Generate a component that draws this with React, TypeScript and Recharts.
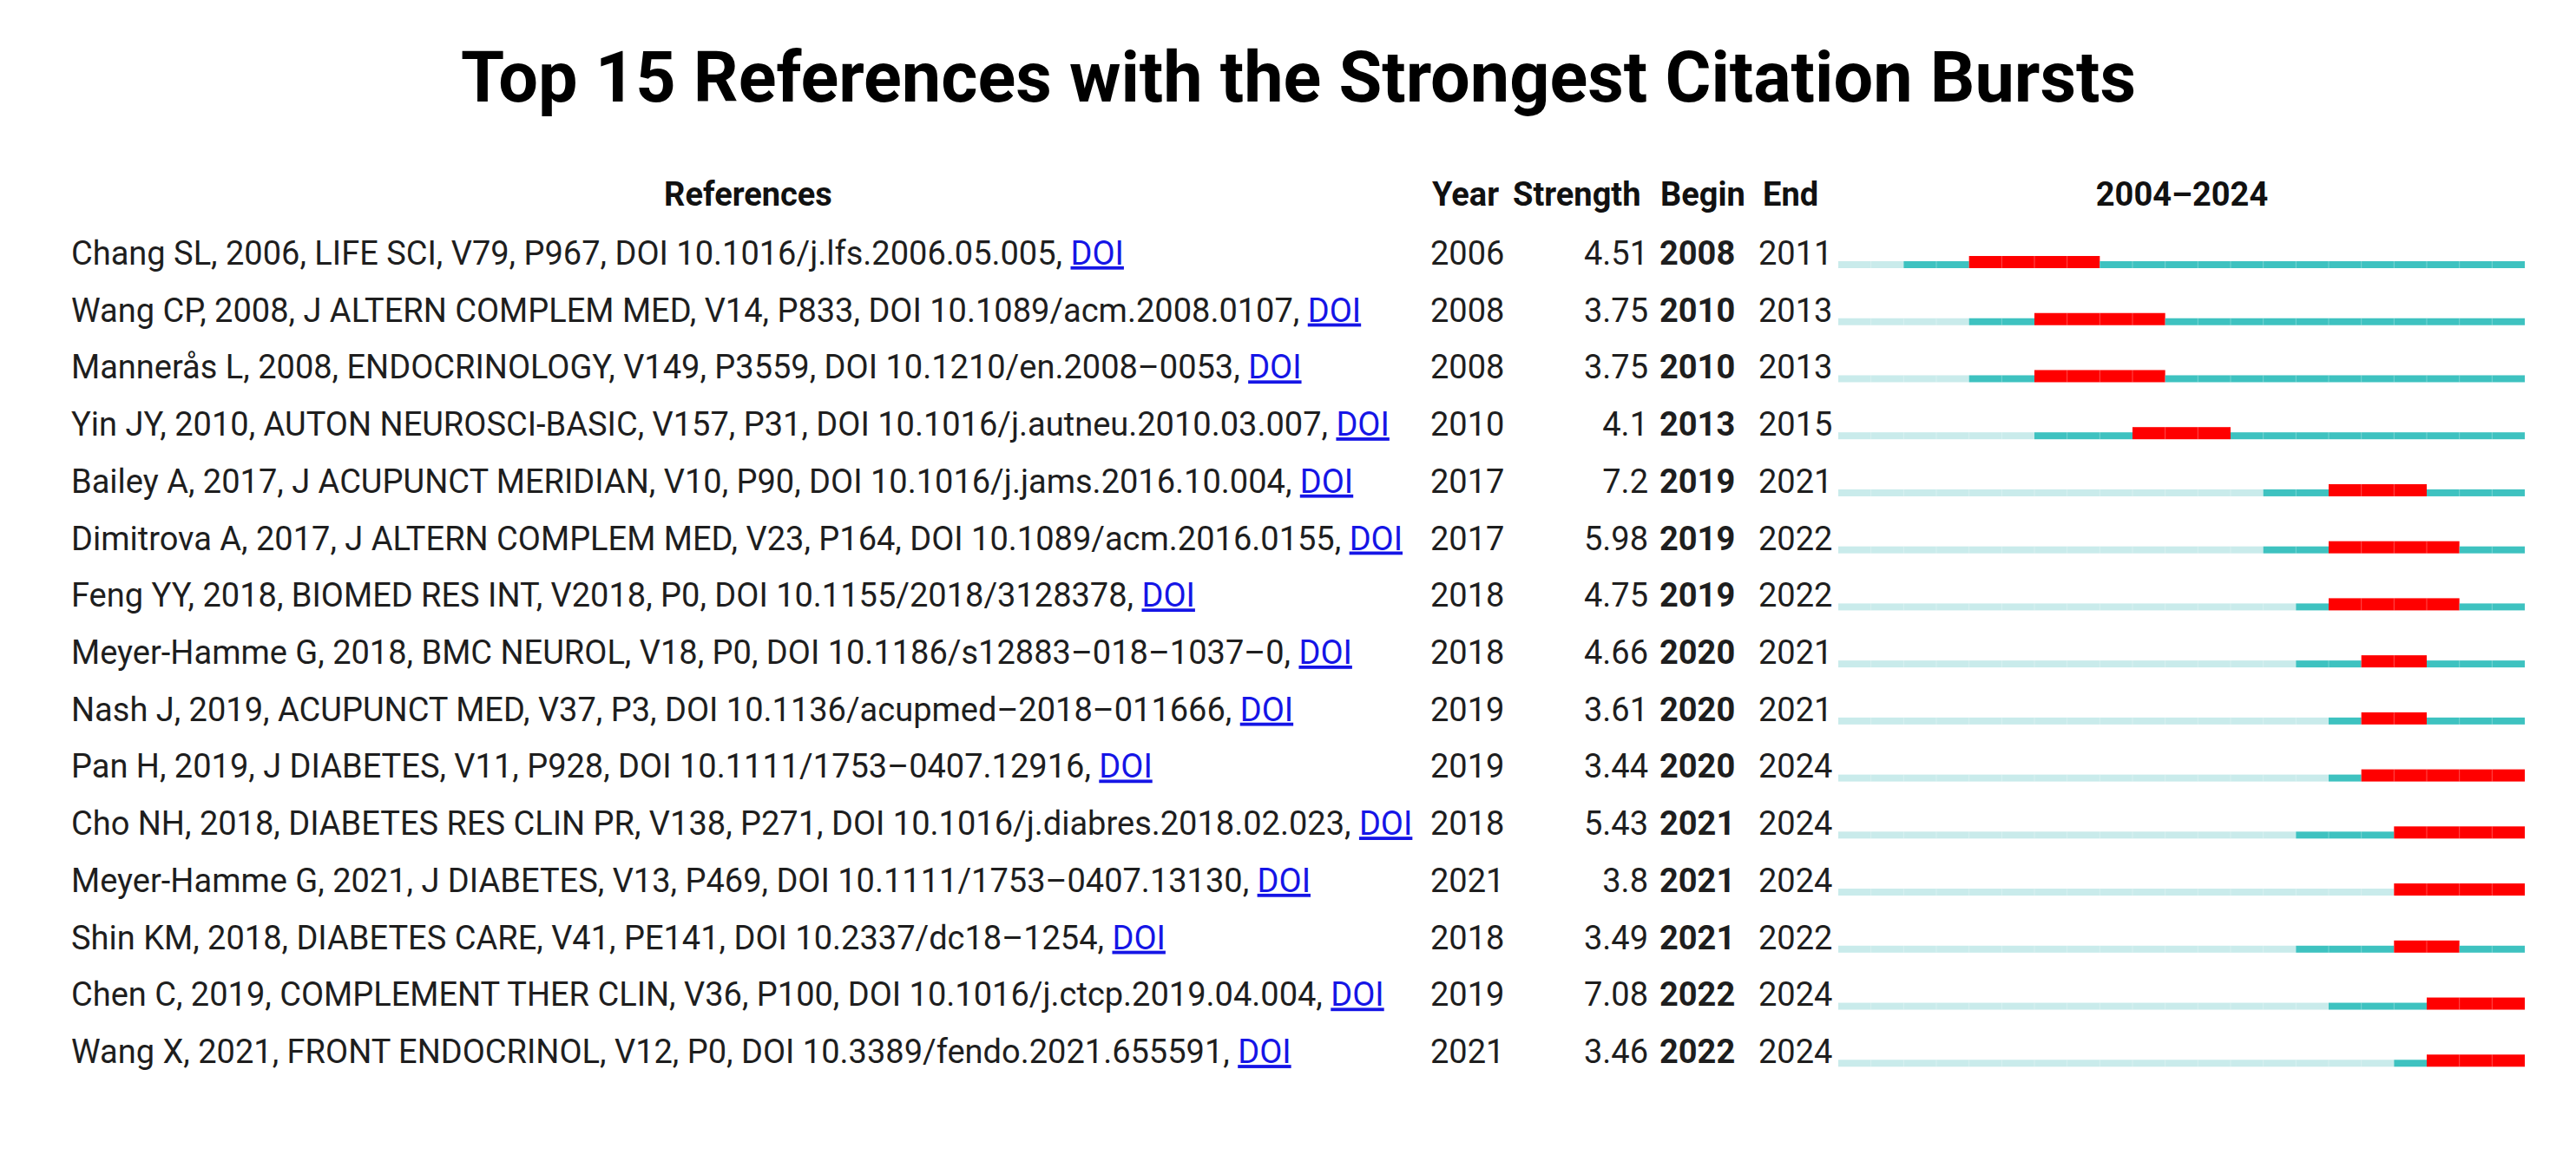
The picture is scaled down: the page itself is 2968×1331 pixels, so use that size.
import { BarChart, Bar, XAxis, YAxis, Customized } from "recharts";

document.body.style.margin = "0";

const FIRST_YEAR = 2004;
const LAST_YEAR = 2024;

const references = [
  "Chang SL, 2006, LIFE SCI, V79, P967, DOI 10.1016/j.lfs.2006.05.005",
  "Wang CP, 2008, J ALTERN COMPLEM MED, V14, P833, DOI 10.1089/acm.2008.0107",
  "Mannerås L, 2008, ENDOCRINOLOGY, V149, P3559, DOI 10.1210/en.2008–0053",
  "Yin JY, 2010, AUTON NEUROSCI-BASIC, V157, P31, DOI 10.1016/j.autneu.2010.03.007",
  "Bailey A, 2017, J ACUPUNCT MERIDIAN, V10, P90, DOI 10.1016/j.jams.2016.10.004",
  "Dimitrova A, 2017, J ALTERN COMPLEM MED, V23, P164, DOI 10.1089/acm.2016.0155",
  "Feng YY, 2018, BIOMED RES INT, V2018, P0, DOI 10.1155/2018/3128378",
  "Meyer-Hamme G, 2018, BMC NEUROL, V18, P0, DOI 10.1186/s12883–018–1037–0",
  "Nash J, 2019, ACUPUNCT MED, V37, P3, DOI 10.1136/acupmed–2018–011666",
  "Pan H, 2019, J DIABETES, V11, P928, DOI 10.1111/1753–0407.12916",
  "Cho NH, 2018, DIABETES RES CLIN PR, V138, P271, DOI 10.1016/j.diabres.2018.02.023",
  "Meyer-Hamme G, 2021, J DIABETES, V13, P469, DOI 10.1111/1753–0407.13130",
  "Shin KM, 2018, DIABETES CARE, V41, PE141, DOI 10.2337/dc18–1254",
  "Chen C, 2019, COMPLEMENT THER CLIN, V36, P100, DOI 10.1016/j.ctcp.2019.04.004",
  "Wang X, 2021, FRONT ENDOCRINOL, V12, P0, DOI 10.3389/fendo.2021.655591",
];
const pubYears = [2006, 2008, 2008, 2010, 2017, 2017, 2018, 2018, 2019, 2019, 2018, 2021, 2018, 2019, 2021];
const strengths = [4.51, 3.75, 3.75, 4.1, 7.2, 5.98, 4.75, 4.66, 3.61, 3.44, 5.43, 3.8, 3.49, 7.08, 3.46];
const begins = [2008, 2010, 2010, 2013, 2019, 2019, 2019, 2020, 2020, 2020, 2021, 2021, 2021, 2022, 2022];
const ends = [2011, 2013, 2013, 2015, 2021, 2022, 2022, 2021, 2021, 2024, 2024, 2024, 2022, 2024, 2024];

// cells per segment: before publication, cited, burst, cited after burst
const rows = references.map((_, i) => ({
  id: i,
  before: pubYears[i] - FIRST_YEAR,
  cited: begins[i] - pubYears[i],
  burst: ends[i] - begins[i] + 1,
  after: LAST_YEAR - ends[i],
}));

const TEXT = "#1e1e1e";
const FONT = "Roboto, sans-serif";

function segment(color: string, thickness: number, key: string) {
  return (props: any) => {
    const { x, y, width, height, payload } = props;
    const cells = payload[key];
    if (!cells || width <= 0) return <g />;
    const top = y + height - thickness;
    const step = width / cells;
    return (
      <g>
        <rect x={x} y={top} width={width} height={thickness} fill={color} />
        {Array.from({ length: cells - 1 }, (_, k) => (
          <line
            key={k}
            x1={x + step * (k + 1)}
            x2={x + step * (k + 1)}
            y1={top}
            y2={top + thickness}
            stroke="#ffffff"
            strokeOpacity={0.3}
            strokeWidth={1}
          />
        ))}
      </g>
    );
  };
}

function RowTick({ y, payload }: any) {
  const i = payload.value;
  const base = y + 3;
  return (
    <g fontFamily={FONT} fontSize={38} fill={TEXT}>
      <text x={82} y={base}>
        {`${references[i]}, `}
        <tspan fill="#1515e6" style={{ textDecoration: "underline" }}>DOI</tspan>
      </text>
      <text x={1648} y={base}>{pubYears[i]}</text>
      <text x={1899} y={base} textAnchor="end">{strengths[i]}</text>
      <text x={1912} y={base} fontWeight="bold">{begins[i]}</text>
      <text x={2026} y={base}>{ends[i]}</text>
    </g>
  );
}

function Headings() {
  return (
    <g fontFamily={FONT} fontWeight="bold">
      <text x={1496} y={117} textAnchor="middle" fontSize={81} fill="#000">
        Top 15 References with the Strongest Citation Bursts
      </text>
      <g fontSize={38} fill="#111">
        <text x={862} y={237} textAnchor="middle">References</text>
        <text x={1650} y={237}>Year</text>
        <text x={1743} y={237}>Strength</text>
        <text x={1913} y={237}>Begin</text>
        <text x={2031} y={237}>End</text>
        <text x={2514} y={237} textAnchor="middle">{`${FIRST_YEAR}–${LAST_YEAR}`}</text>
      </g>
    </g>
  );
}

export default function App() {
  return (
    <div style={{ background: "#fff" }}>
      <BarChart
        width={2968}
        height={1331}
        data={rows}
        layout="vertical"
        margin={{ top: 269, right: 59, bottom: 76, left: 0 }}
      >
        <XAxis type="number" domain={[0, LAST_YEAR - FIRST_YEAR + 1]} hide />
        <YAxis
          type="category"
          dataKey="id"
          width={2118}
          axisLine={false}
          tickLine={false}
          interval={0}
          tick={<RowTick />}
        />
        <Bar dataKey="before" stackId="s" barSize={14} shape={segment("#c9ebeb", 8, "before")} isAnimationActive={false} />
        <Bar dataKey="cited" stackId="s" barSize={14} shape={segment("#3ec2c0", 8, "cited")} isAnimationActive={false} />
        <Bar dataKey="burst" stackId="s" barSize={14} shape={segment("#ff0000", 14, "burst")} isAnimationActive={false} />
        <Bar dataKey="after" stackId="s" barSize={14} shape={segment("#3ec2c0", 8, "after")} isAnimationActive={false} />
        <Customized component={<Headings />} />
      </BarChart>
    </div>
  );
}
